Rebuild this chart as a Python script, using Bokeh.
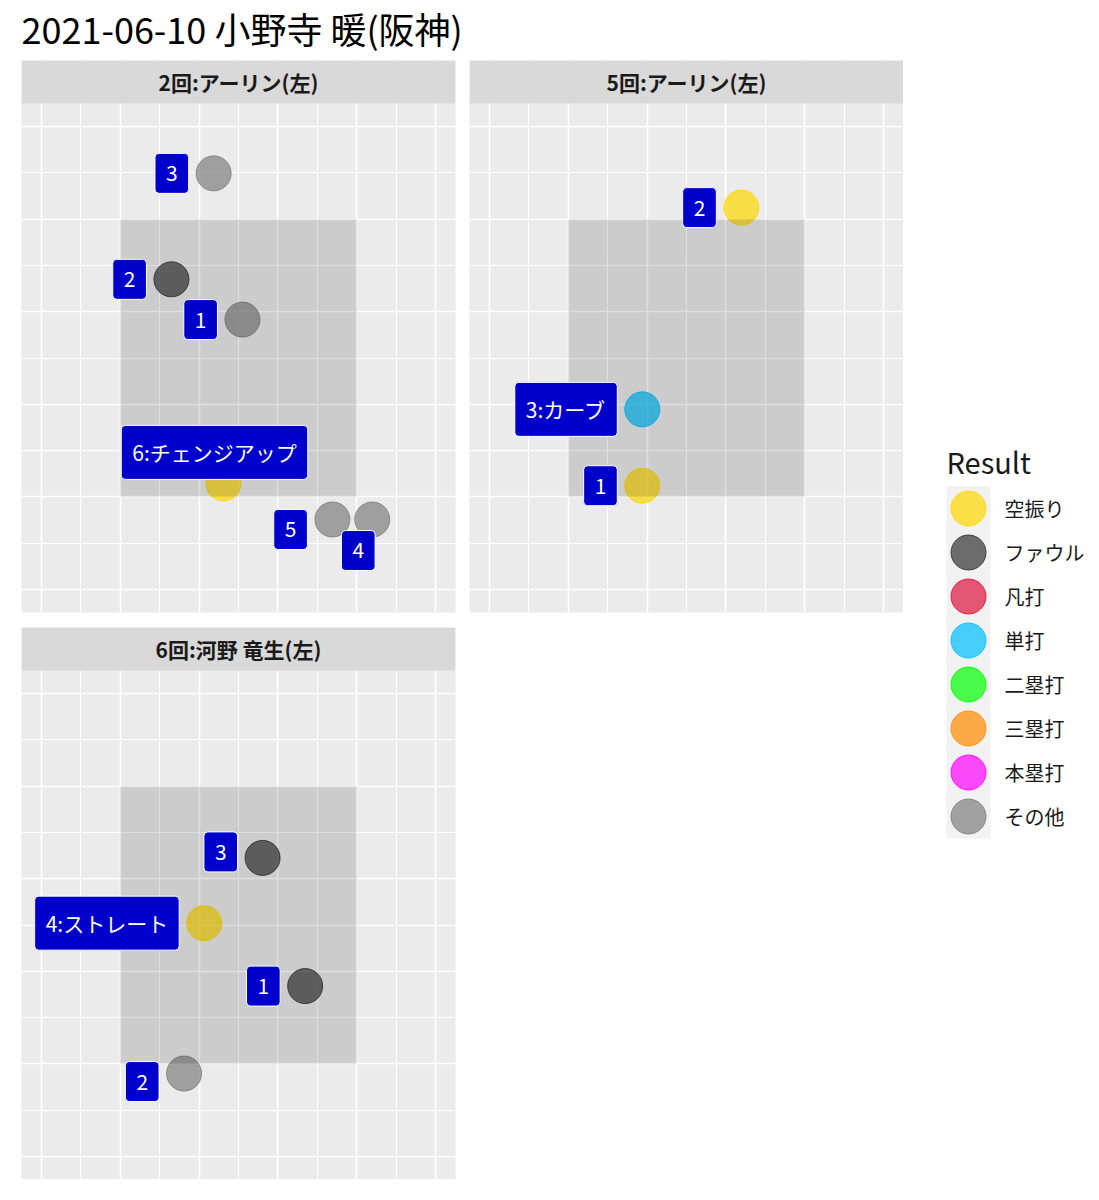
from bokeh.plotting import figure
from bokeh.models import Range1d, Grid, FixedTicker, ColumnDataSource
from bokeh.layouts import column, row
from bokeh.core.properties import value
from bokeh.embed import file_html
from bokeh.resources import INLINE

FONT = "Noto Sans CJK JP"

# ---------------- data ----------------
page_title = "2021-06-10 小野寺 暖(阪神)"
legend_title = "Result"
results = ["空振り", "ファウル", "凡打", "単打", "二塁打", "三塁打", "本塁打", "その他"]
result_colors = ["#FFD700", "#333333", "#DC143C", "#00BFFF", "#00FF00", "#FF8C00", "#FF00FF", "#7F7F7F"]

zone_left, zone_right, zone_bottom, zone_top = -3, 3, -3, 3
x_lim = (-5.5, 5.5)
y_lim = (-5.5, 5.5)
major_breaks = [-5, -3, -1, 1, 3, 5]
minor_breaks = [-4, -2, 0, 2, 4]

p1_title = "2回:アーリン(左)"
p1_num = [1, 2, 3, 4, 5, 6]
p1_x = [0.10, -1.70, -0.63, 3.39, 2.38, -0.38]
p1_y = [0.83, 1.70, 3.99, -3.49, -3.49, -2.71]
p1_res = ["その他", "ファウル", "その他", "その他", "その他", "空振り"]
p1_type = ["", "", "", "", "", "チェンジアップ"]

p2_title = "5回:アーリン(左)"
p2_num = [1, 2, 3]
p2_x = [-1.12, 1.39, -1.12]
p2_y = [-2.76, 3.25, -1.11]
p2_res = ["空振り", "空振り", "単打"]
p2_type = ["", "", "カーブ"]

p3_title = "6回:河野 竜生(左)"
p3_num = [1, 2, 3, 4]
p3_x = [1.69, -1.38, 0.61, -0.87]
p3_y = [-1.32, -3.21, 1.45, 0.04]
p3_res = ["ファウル", "その他", "ファウル", "空振り"]
p3_type = ["", "", "", "ストレート"]

# label placement (repel-like nudges, screen px)
p1_lab = [("right", 0, 0), ("right", 0, 0), ("right", 0, 0), ("center", -14, 31), ("right", 0, 10), ("center", -9, -31)]
p2_lab = [("right", 0, 0), ("right", 0, 0), ("right", 0, 0)]
p3_lab = [("right", 0, 0), ("right", 0, 8), ("right", 0, -6), ("right", 0, 0)]

# ---------------- layout constants ----------------
FRAME_W = 434
PANEL_H = 509
STRIP_H = 43
POINT_SIZE = 35
LABEL_GAP = 25

color_of = dict(zip(results, result_colors))


def make_panel(title, nums, xs, ys, res, types, labs, bl, br, bt, bb):
    y_units_per_px = (y_lim[1] - y_lim[0]) / PANEL_H
    y_top = y_lim[1] + STRIP_H * y_units_per_px
    p = figure(width=bl + FRAME_W + br, height=bt + PANEL_H + STRIP_H + bb,
               x_range=Range1d(*x_lim), y_range=Range1d(y_lim[0], y_top),
               min_border_left=bl, min_border_right=br, min_border_top=bt, min_border_bottom=bb,
               x_axis_location=None, y_axis_location=None, toolbar_location=None,
               output_backend="svg", background_fill_color="#EBEBEB",
               border_fill_color="white", outline_line_color=None)
    p.xgrid.visible = False
    p.ygrid.visible = False
    for dim in (0, 1):
        p.add_layout(Grid(dimension=dim,
                          ticker=FixedTicker(ticks=major_breaks, minor_ticks=minor_breaks),
                          grid_line_color="white", grid_line_width=1.6,
                          minor_grid_line_color="white", minor_grid_line_width=1.1))
    cols = [color_of[r] for r in res]
    src = ColumnDataSource(dict(x=xs, y=ys, c=cols))
    p.scatter("x", "y", source=src, size=POINT_SIZE, fill_color="c", fill_alpha=0.7,
              line_color="c", line_alpha=0.85, line_width=1)
    # strike zone overlay
    p.quad(left=[zone_left], right=[zone_right], bottom=[zone_bottom], top=[zone_top],
           fill_color="black", fill_alpha=0.13, line_color=None)
    # facet strip
    p.quad(left=[x_lim[0]], right=[x_lim[1]], bottom=[y_lim[1]], top=[y_top],
           fill_color="#D9D9D9", line_color=None)
    p.text(x=[0], y=[(y_lim[1] + y_top) / 2], text=[title], text_align="center",
           text_baseline="middle", text_font=value(FONT), text_font_style="bold",
           text_font_size="21px", text_color="#1A1A1A")
    # labels
    texts = [f"{n}:{t}" if t else str(n) for n, t in zip(nums, types)]
    aligns = [a for a, _, _ in labs]
    xo = [(-LABEL_GAP if a == "right" else dx) for a, dx, _ in labs]
    yo = [dy for _, _, dy in labs]
    lsrc = ColumnDataSource(dict(x=xs, y=ys, t=texts, a=aligns, xo=xo, yo=yo))
    p.text("x", "y", text="t", source=lsrc, text_align="a", text_baseline="middle",
           x_offset="xo", y_offset="yo", text_color="white", text_font=value(FONT),
           text_font_size="21px", background_fill_color="#0000CD",
           border_line_color="white", border_line_width=1, padding=(11, 12), border_radius=4)
    return p


p1 = make_panel(p1_title, p1_num, p1_x, p1_y, p1_res, p1_type, p1_lab, 21, 7, 0, 8)
p2 = make_panel(p2_title, p2_num, p2_x, p2_y, p2_res, p2_type, p2_lab, 7, 0, 0, 8)
p3 = make_panel(p3_title, p3_num, p3_x, p3_y, p3_res, p3_type, p3_lab, 21, 7, 7, 0)

# ---------------- title ----------------
tf = figure(width=1091, height=60, x_range=Range1d(0, 1091), y_range=Range1d(60, 0),
            min_border=0, x_axis_location=None, y_axis_location=None, toolbar_location=None,
            output_backend="svg", background_fill_color="white", border_fill_color="white",
            outline_line_color=None)
tf.xgrid.visible = False
tf.ygrid.visible = False
tf.text(x=[21], y=[27], text=[page_title], text_align="left", text_baseline="middle",
        text_font=value(FONT), text_font_size="36px", text_color="black")

# ---------------- legend ----------------
LG_TOP = 60
LG_BOTTOM = 1179
lg = figure(width=188, height=LG_BOTTOM - LG_TOP, x_range=Range1d(903, 1091),
            y_range=Range1d(LG_BOTTOM, LG_TOP), min_border=0,
            x_axis_location=None, y_axis_location=None, toolbar_location=None,
            output_backend="svg", background_fill_color="white", border_fill_color="white",
            outline_line_color=None)
lg.xgrid.visible = False
lg.ygrid.visible = False
key_x0, key_w, key_y0, key_step = 946, 44, 486, 44
n = len(results)
lg.quad(left=[key_x0], right=[key_x0 + key_w], top=[key_y0], bottom=[key_y0 + key_step * n],
        fill_color="#F2F2F2", line_color=None)
ky = [key_y0 + key_step * (i + 0.5) for i in range(n)]
ksrc = ColumnDataSource(dict(x=[key_x0 + key_w / 2] * n, y=ky, c=result_colors,
                             lx=[key_x0 + key_w + 14] * n, t=results))
lg.scatter("x", "y", source=ksrc, size=POINT_SIZE, fill_color="c", fill_alpha=0.7,
           line_color="c", line_alpha=0.85, line_width=1)
lg.text("lx", "y", text="t", source=ksrc, text_baseline="middle", text_align="left",
        text_font=value(FONT), text_font_size="20px", text_color="#1A1A1A")
lg.text(x=[key_x0], y=[key_y0 - 26], text=[legend_title], text_baseline="middle",
        text_align="left", text_font=value(FONT), text_font_size="29px", text_color="#1A1A1A")

layout = column(tf, row(column(row(p1, p2), p3), lg))
open("out.html", "w").write(file_html(layout, INLINE))
